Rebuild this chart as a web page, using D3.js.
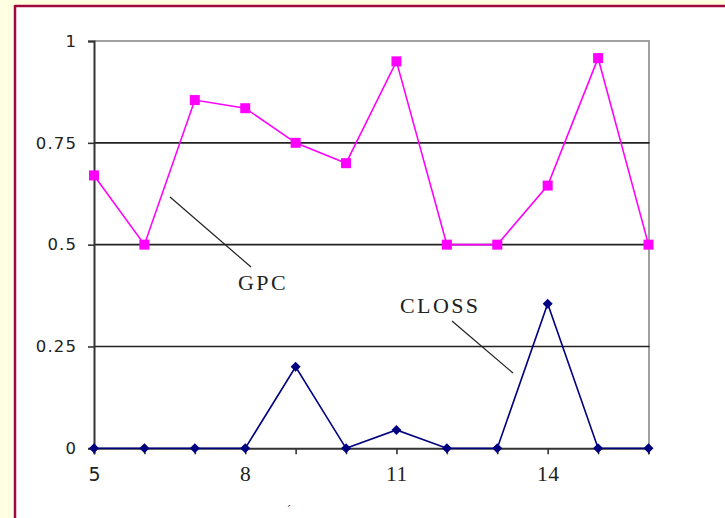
<!DOCTYPE html>
<html>
<head>
<meta charset="utf-8">
<script src="https://cdn.jsdelivr.net/npm/d3@7"></script>
<style>
  html, body { margin: 0; padding: 0; background: #FFFFE1; }
  svg { display: block; }
</style>
</head>
<body>
<svg id="chart" width="725" height="518"></svg>
<script>
// Data
const xValues = [5, 6, 7, 8, 9, 10, 11, 12, 13, 14, 15, 16];
const gpc     = [0.67, 0.5, 0.855, 0.835, 0.75, 0.70, 0.95, 0.5, 0.5, 0.645, 0.958, 0.5];
const closs   = [0, 0, 0, 0, 0.2, 0, 0.045, 0, 0, 0.355, 0, 0];
const yTicks  = [0, 0.25, 0.5, 0.75, 1];
const yTickLabels = ["0", "0.25", "0.5", "0.75", "1"];
const xLabelTicks = [5, 8, 11, 14];
const seriesNames = ["GPC", "CLOSS"];

const svg = d3.select("#chart");

// Slide panel: pale background with a dark red frame on top and left
svg.append("rect").attr("x", 0).attr("y", 0).attr("width", 725).attr("height", 518).attr("fill", "#FFFFE1");
svg.append("rect").attr("x", 16).attr("y", 6).attr("width", 709).attr("height", 512).attr("fill", "#ffffff");
svg.append("line").attr("x1", 15).attr("x2", 725).attr("y1", 6).attr("y2", 6)
  .attr("stroke", "#9E0A3E").attr("stroke-width", 2.5);
svg.append("line").attr("x1", 15).attr("x2", 15).attr("y1", 5).attr("y2", 518)
  .attr("stroke", "#9E0A3E").attr("stroke-width", 2.5);

const plotLeft = 94, plotRight = 648.5, plotTop = 41, plotBottom = 448.3;
const x = d3.scaleLinear().domain([5, 16]).range([plotLeft, plotRight]);
const y = d3.scaleLinear().domain([0, 1]).range([plotBottom, plotTop]);

// Plot frame (top and right) in grey
svg.append("path")
  .attr("d", `M${plotLeft},${y(1)}H${x(16) + 0.5}V${plotBottom}`)
  .attr("fill", "none").attr("stroke", "#a0a0a0").attr("stroke-width", 2);

// Horizontal gridlines
svg.append("g").selectAll("line")
  .data(yTicks.filter(d => d > 0 && d < 1))
  .join("line")
  .attr("x1", plotLeft).attr("x2", x(16) + 1)
  .attr("y1", d => y(d)).attr("y2", d => y(d))
  .attr("stroke", "#222").attr("stroke-width", 1.6);

// Y axis
const yAxis = d3.axisLeft(y).tickValues(yTicks).tickSize(6).tickPadding(11)
  .tickFormat((d, i) => yTickLabels[i]);
const gy = svg.append("g").attr("transform", `translate(${plotLeft},0)`).call(yAxis);
gy.select(".domain").attr("stroke", "#333").attr("stroke-width", 2);
gy.selectAll(".tick line").attr("stroke", "#333").attr("stroke-width", 1.6);
gy.selectAll(".tick text")
  .attr("font-family", "DejaVu Sans, Verdana, sans-serif")
  .attr("font-size", 16.5).attr("letter-spacing", 1.1)
  .attr("fill", "#222");

// X axis: tick at every integer, labels every third
const xAxis = d3.axisBottom(x).tickValues(xValues).tickSize(6).tickPadding(11)
  .tickFormat(d => xLabelTicks.includes(d) ? String(d) : "");
const gx = svg.append("g").attr("transform", `translate(0,${plotBottom})`).call(xAxis);
gx.select(".domain").attr("stroke", "#333").attr("stroke-width", 2);
gx.selectAll(".tick line").attr("stroke", "#333").attr("stroke-width", 1.6);
gx.selectAll(".tick text")
  .attr("font-family", d => d === 5 ? "DejaVu Sans, sans-serif" : "Liberation Serif, Times New Roman, serif")
  .attr("font-size", d => d === 5 ? 19 : 21.5)
  .attr("dy", d => d === 5 ? "0.84em" : "0.71em")
  .attr("letter-spacing", d => d === 5 ? 0 : 0.5)
  .attr("fill", "#222");

// Callout labels with leader lines
const callouts = [
  { name: seriesNames[0], lx1: 170, ly1: 197, lx2: 251, ly2: 267, tx: 238, ty: 290 },
  { name: seriesNames[1], lx1: 452, ly1: 321, lx2: 513, ly2: 373, tx: 400, ty: 313 }
];
svg.append("g").selectAll("line").data(callouts).join("line")
  .attr("x1", d => d.lx1).attr("y1", d => d.ly1)
  .attr("x2", d => d.lx2).attr("y2", d => d.ly2)
  .attr("stroke", "#222").attr("stroke-width", 1.2);
svg.append("g").selectAll("text").data(callouts).join("text")
  .attr("x", d => d.tx).attr("y", d => d.ty)
  .attr("font-family", "Liberation Serif, Times New Roman, serif")
  .attr("font-size", 22).attr("letter-spacing", 2.4)
  .attr("fill", "#222")
  .text(d => d.name);

// Series lines
const line = d3.line().x(d => x(d[0])).y(d => y(d[1]));
const gpcPts = xValues.map((v, i) => [v, gpc[i]]);
const clossPts = xValues.map((v, i) => [v, closs[i]]);

svg.append("path").datum(gpcPts).attr("d", line)
  .attr("fill", "none").attr("stroke", "#FF00FF").attr("stroke-width", 1.6);
svg.append("path").datum(clossPts).attr("d", line)
  .attr("fill", "none").attr("stroke", "#000080").attr("stroke-width", 1.6);

// Markers
svg.append("g").selectAll("rect").data(gpcPts).join("rect")
  .attr("x", d => x(d[0]) - 5).attr("y", d => y(d[1]) - 5)
  .attr("width", 10).attr("height", 10)
  .attr("fill", "#FF00FF");
const diamond = d3.symbol().type(d3.symbolDiamond2).size(64);
svg.append("g").selectAll("path").data(clossPts).join("path")
  .attr("transform", d => `translate(${x(d[0])},${y(d[1])})`)
  .attr("d", diamond)
  .attr("fill", "#000080");

// Small stray accent near the bottom edge
svg.append("text").attr("x", 287).attr("y", 514)
  .attr("font-family", "Liberation Serif, serif").attr("font-size", 12)
  .attr("fill", "#444").text("´");
</script>
</body>
</html>
